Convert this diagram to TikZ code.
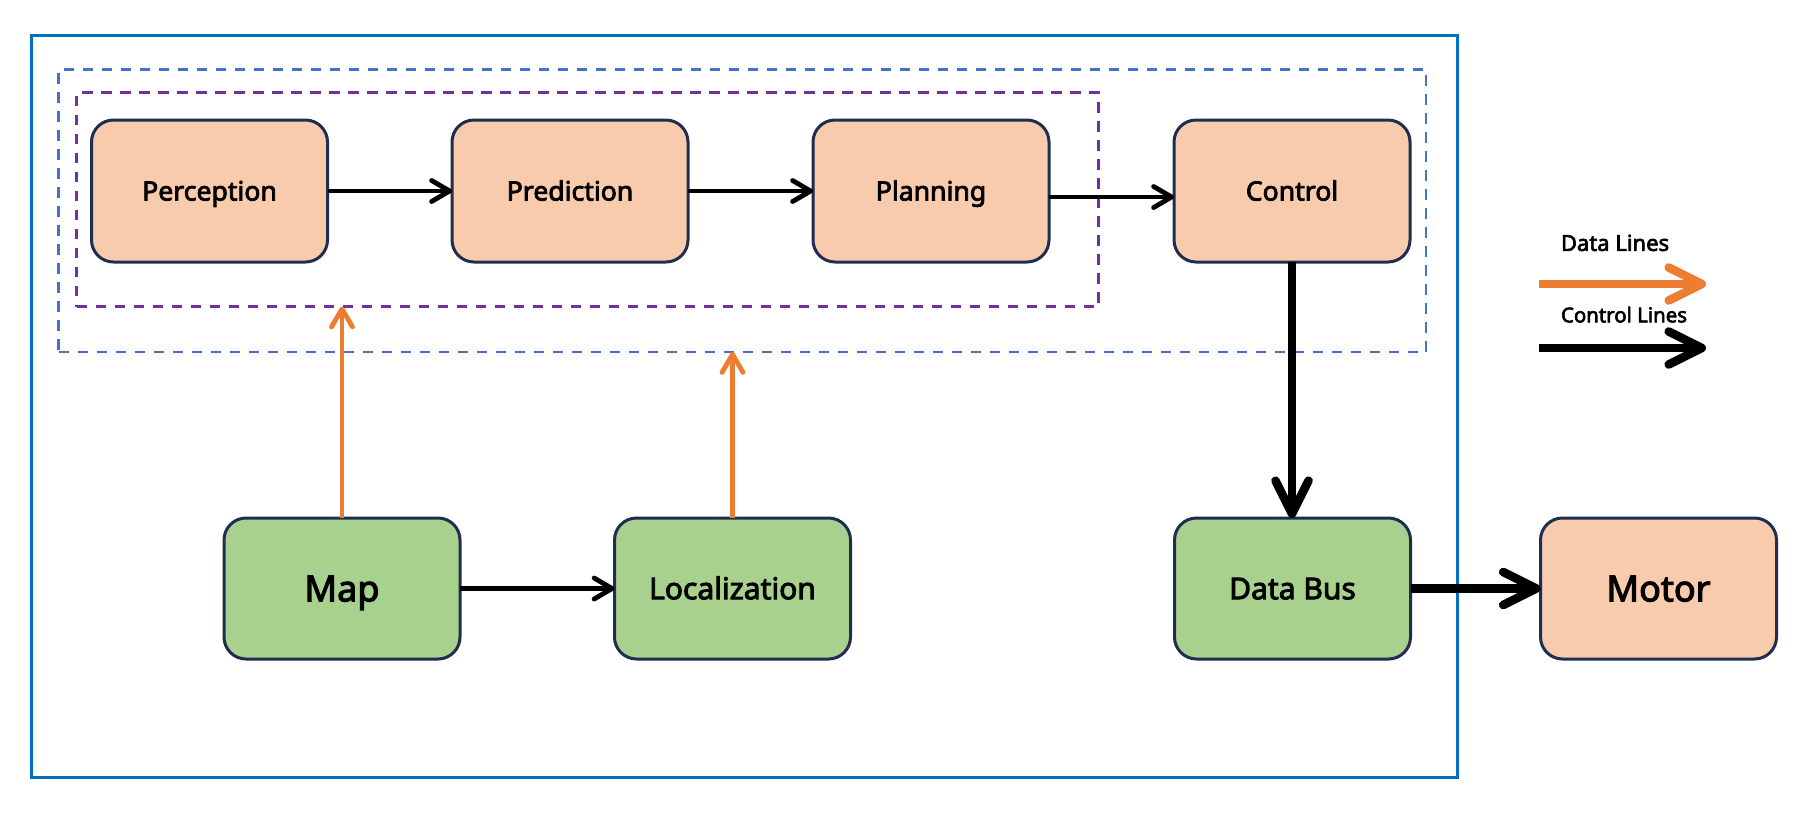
\documentclass[tikz,border=0pt]{standalone}
\usepackage{fontspec}
\setmainfont{Noto Sans}[BoldFont={Noto Sans}, BoldFeatures={FakeBold=3}]
\usetikzlibrary{arrows.meta}
\definecolor{peach}{HTML}{F8CBAD}
\definecolor{leaf}{HTML}{A9D18E}
\definecolor{navy}{HTML}{1F2D50}
\definecolor{outerblue}{HTML}{0070C0}
\definecolor{dashblue}{HTML}{4472C4}
\definecolor{dashpurple}{HTML}{7030A0}
\definecolor{dataorange}{HTML}{ED7D31}
\tikzset{
  box/.style={draw=navy, line width=1.5pt, rounded corners=11pt, outer sep=0pt,
    minimum width=118pt, text depth=0pt},
  toprow/.style={box, fill=peach, minimum height=71pt, text height=9.5pt,
    font=\bfseries\fontsize{13.3}{16}\selectfont},
  botrow/.style={box, minimum height=70.5pt},
  bigtext/.style={font=\bfseries\fontsize{18}{21}\selectfont, text height=12.85pt},
  midtext/.style={font=\bfseries\fontsize{15}{18}\selectfont, text height=10.7pt},
  frame/.style={inner sep=0pt, outer sep=0pt},
  thinarrow/.style={line width=2.4pt, -{Straight Barb[length=9pt, width=10.5pt, line cap=round, line join=round]}},
  dataarrow/.style={dataorange, line width=2.4pt, -{Straight Barb[length=9pt, width=10.5pt, line cap=round, line join=round]}},
  thickarrow/.style={line width=4.3pt, -{Straight Barb[length=16.5pt, width=16.5pt, line cap=round, line join=round]}},
  legendtext/.style={font=\bfseries\fontsize{11}{13}\selectfont, inner sep=0pt, text height=7.85pt, text depth=0pt},
}
\begin{document}
\begin{tikzpicture}[x=0.5pt, y=-0.5pt]
\useasboundingbox (0,0) rectangle (1802,826);
% frames
\node[frame, draw=outerblue, line width=1.5pt, minimum width=713pt, minimum height=371pt] (outer) at (744,406) {};
\node[frame, draw=dashblue, line width=1.4pt, dash pattern=on 5.25pt off 4.25pt, minimum width=683.75pt, minimum height=141.25pt] (blueframe) at (742.25,210.75) {};
\node[frame, draw=dashpurple, line width=1.4pt, dash pattern=on 5.25pt off 4.25pt, minimum width=511pt, minimum height=107pt] (purpleframe) at (587.5,199.5) {};
% top row
\node[toprow] (perc) at (209.5,191) {Perception};
\node[toprow] (pred) at (570,191) {Prediction};
\node[toprow] (plan) at (931,191) {Planning};
\node[toprow] (ctrl) at (1292,191) {Control};
% bottom row
\node[botrow, fill=leaf, bigtext] (map) at (342,588.5) {Map};
\node[botrow, fill=leaf, midtext] (loc) at (732.5,588.5) {Localization};
\node[botrow, fill=leaf, midtext] (bus) at (1292.5,588.5) {Data Bus};
\node[botrow, fill=peach, bigtext] (motor) at (1658.5,588.5) {Motor};
% control flow
\draw[thinarrow] (perc) -- (pred);
\draw[thinarrow] (pred) -- (plan);
\draw[thinarrow] ([yshift=-3pt]plan.east) -- ([yshift=-3pt]ctrl.west);
\draw[thinarrow] (map) -- (loc);
\draw[thickarrow] (ctrl.south) -- (ctrl.south |- bus.north);
\draw[thickarrow] (bus) -- (motor);
% data flow
\draw[dataarrow] (map.north) -- (map.north |- purpleframe.south);
\draw[dataarrow] (loc.north) -- (loc.north |- blueframe.south);
% legend
\node[legendtext] (datalbl) at (1615,243) {Data Lines};
\node[legendtext, font=\bfseries\fontsize{10.2}{12}\selectfont, text height=7.3pt] (ctrllbl) at (1624,315) {Control Lines};
\coordinate (dls) at (1539,284);
\coordinate (dle) at (1706,284);
\coordinate (cls) at (1539,348);
\coordinate (cle) at (1706,348);
\draw[thickarrow, dataorange] (dls) -- (dle);
\draw[thickarrow] (cls) -- (cle);
\end{tikzpicture}
\end{document}
